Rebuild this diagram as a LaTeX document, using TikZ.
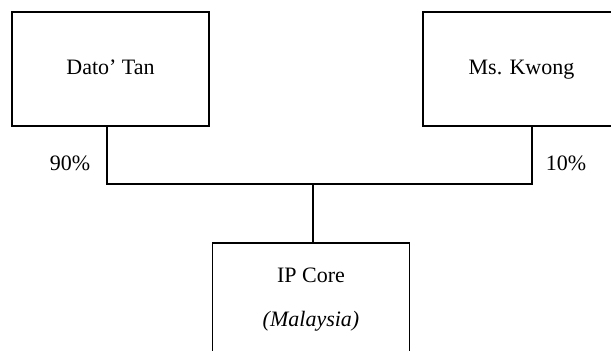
\documentclass[tikz,border=0pt]{standalone}
\usepackage{fontspec}
\setmainfont{Liberation Serif}
\usetikzlibrary{positioning}

\begin{document}
\begin{tikzpicture}[x=0.5pt,y=-0.5pt,
  line width=0.8pt,
  every node/.style={font=\fontsize{11}{13}\selectfont},
  ownerbox/.style={draw,rectangle,minimum width=98.5pt,minimum height=57pt,inner sep=0pt},
  namebox/.style={ownerbox,text height=0.72em,text depth=0.22em},
  pctlabel/.style={inner sep=0pt}
  ]
  \useasboundingbox (0,0) rectangle (611,350);
  \clip (0,0) rectangle (611,350);

  % the shareholders
  \node[namebox] (tan) at (110.5,69) {Dato' Tan};
  \node[namebox] (kwong) at (521.5,69) {Ms. Kwong};

  % the company
  \node[ownerbox,align=center] (core) at (311,300)
    {IP Core\\[9pt]\textit{(Malaysia)}};

  % the junctions
  \coordinate (jl) at (107,184);
  \coordinate (jr) at (532,184);
  \coordinate (jm) at (313,184);

  % the edges
  \draw (tan.south -| jl) -- (jl) -- (jr) -- (kwong.south -| jr);
  \draw (jm) -- (core.north -| jm);

  % the shares
  \node[pctlabel] (ptan) at (70,163) {90\%};
  \node[pctlabel] (pkwong) at (566,163) {10\%};
\end{tikzpicture}
\end{document}
